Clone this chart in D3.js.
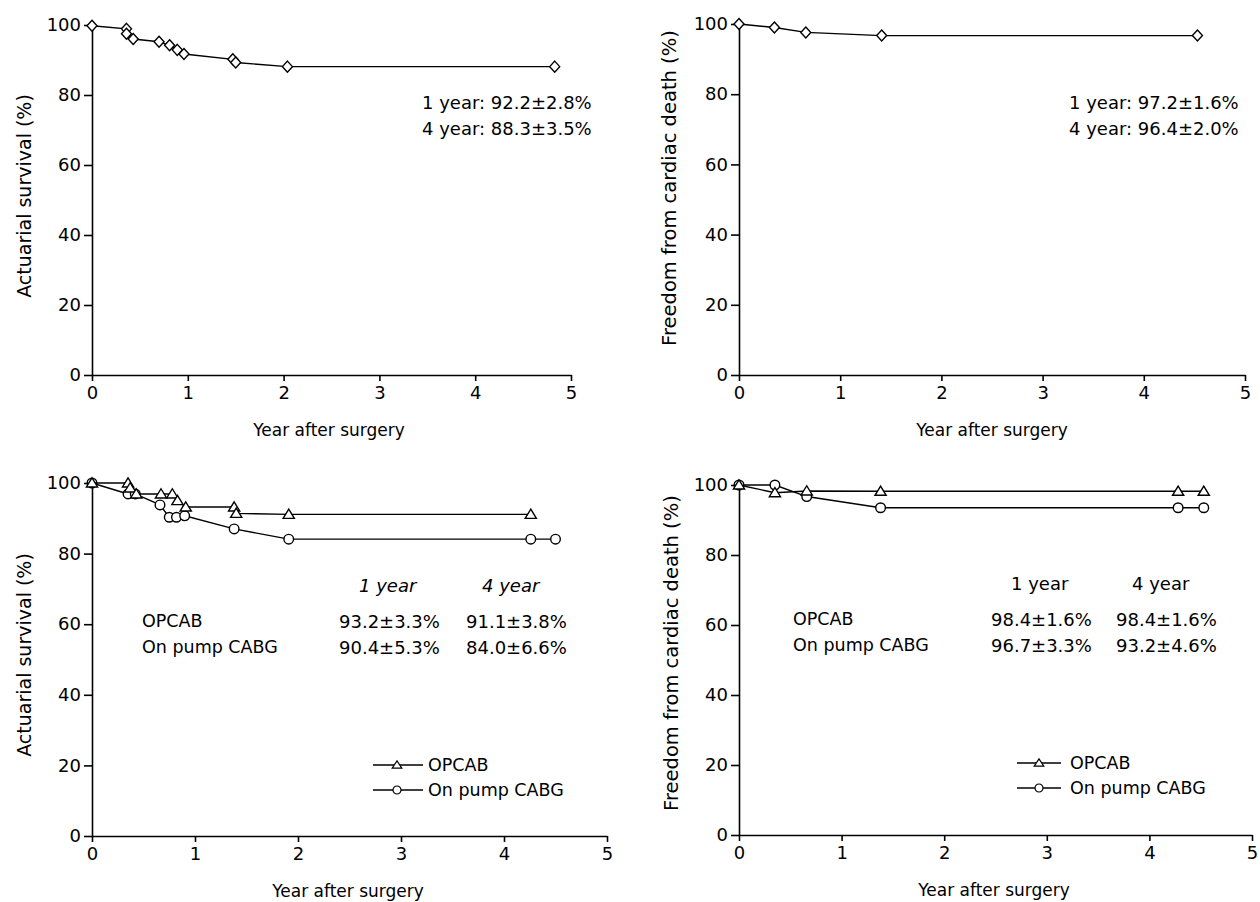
<!DOCTYPE html>
<html><head><meta charset="utf-8">
<script src="https://cdn.jsdelivr.net/npm/d3@7"></script>
<style>
body{margin:0;background:#fff}
svg{display:block}
text{font-family:"DejaVu Sans",sans-serif;fill:#000}
</style>
</head><body>
<svg id="c" width="1260" height="902"></svg>
<script>
// ---------- data ----------
const xTicks = [0, 1, 2, 3, 4, 5];
const yTicks = [0, 20, 40, 60, 80, 100];
const xTitle = "Year after surgery";
const yTitleSurvival = "Actuarial survival (%)";
const yTitleCardiac = "Freedom from cardiac death (%)";

// Panel A: overall actuarial survival
const aTime  = [0, 0.36, 0.36, 0.43, 0.70, 0.81, 0.89, 0.96, 1.47, 1.50, 2.04, 4.83];
const aValue = [99.8, 98.9, 97.5, 96.0, 95.2, 94.2, 92.9, 91.7, 90.2, 89.3, 88.1, 88.1];
const aStats = ["1 year: 92.2\u00b12.8%", "4 year: 88.3\u00b13.5%"];

// Panel B: overall freedom from cardiac death
const bTime  = [0, 0.35, 0.66, 1.41, 4.53];
const bValue = [100, 99.0, 97.6, 96.7, 96.7];
const bStats = ["1 year: 97.2\u00b11.6%", "4 year: 96.4\u00b12.0%"];

// Panel C: actuarial survival by group
const cOpcabTime  = [0, 0.35, 0.37, 0.43, 0.67, 0.78, 0.83, 0.91, 1.38, 1.40, 1.91, 4.26];
const cOpcabValue = [100, 100, 98.6, 96.9, 96.9, 96.9, 95.0, 93.2, 93.2, 91.4, 91.1, 91.1];
const cPumpTime   = [0, 0.35, 0.42, 0.66, 0.75, 0.82, 0.90, 1.38, 1.91, 4.26, 4.50];
const cPumpValue  = [100, 96.9, 96.9, 93.8, 90.3, 90.3, 90.7, 87.0, 84.1, 84.1, 84.1];

// Panel D: freedom from cardiac death by group
const dOpcabTime  = [0, 0.35, 0.66, 1.38, 4.28, 4.53];
const dOpcabValue = [100, 97.8, 98.3, 98.2, 98.2, 98.2];
const dPumpTime   = [0, 0.35, 0.66, 1.38, 4.28, 4.53];
const dPumpValue  = [100, 100, 96.7, 93.5, 93.5, 93.5];

const groupNames = ["OPCAB", "On pump CABG"];
const colHeaders = ["1 year", "4 year"];
const cStats = [["93.2\u00b13.3%", "91.1\u00b13.8%"], ["90.4\u00b15.3%", "84.0\u00b16.6%"]];
const dStats = [["98.4\u00b11.6%", "98.4\u00b11.6%"], ["96.7\u00b13.3%", "93.2\u00b14.6%"]];

// ---------- drawing ----------
const svg = d3.select("#c");
const zip = (t, v) => t.map((d, i) => ({t: d, v: v[i]}));

const shapes = {
  diamond: "M0,-5.5L5,0L0,5.5L-5,0Z",
  triangle: "M0,-5.2L5.6,4L-5.6,4Z",
  circle: d3.symbol(d3.symbolCircle, Math.PI * 4.8 * 4.8)()
};

function makePanel(cfg) {
  const x = d3.scaleLinear().domain([0, 5]).range([cfg.x0, cfg.x1]);
  const y = d3.scaleLinear().domain([0, 100]).range([cfg.yb, cfg.yt]);
  const g = svg.append("g");

  const ax = g.append("g").attr("transform", `translate(0,${cfg.yb})`)
    .call(d3.axisBottom(x).tickValues(xTicks).tickSize(6).tickPadding(5).tickSizeOuter(0).tickFormat(d3.format("d")));
  const ay = g.append("g").attr("transform", `translate(${cfg.x0},0)`)
    .call(d3.axisLeft(y).tickValues(yTicks).tickSize(8).tickPadding(3).tickSizeOuter(0).tickFormat(d3.format("d")));
  [ax, ay].forEach(a => {
    a.attr("font-family", "DejaVu Sans").attr("font-size", 18);
    a.selectAll("path,line").attr("stroke", "#000").attr("stroke-width", 1.6);
    a.selectAll("text").attr("fill", "#000");
  });

  g.append("text").attr("x", cfg.xTitleX).attr("y", cfg.yb + 61)
    .attr("text-anchor", "middle").attr("font-size", 17).text(xTitle);
  g.append("text").attr("transform", `translate(${cfg.yTitleX},${cfg.yTitleY}) rotate(-90)`)
    .attr("text-anchor", "middle").attr("dominant-baseline", "central")
    .attr("font-size", cfg.yTitleSize).text(cfg.yTitle);

  return {g, x, y};
}

function drawSeries(p, data, shape) {
  const line = d3.line().x(d => p.x(d.t)).y(d => p.y(d.v));
  p.g.append("path").datum(data).attr("d", line)
    .attr("fill", "none").attr("stroke", "#000").attr("stroke-width", 1.4);
  p.g.selectAll(null).data(data).enter().append("path")
    .attr("d", shapes[shape])
    .attr("transform", d => `translate(${p.x(d.t)},${p.y(d.v)})`)
    .attr("fill", "#fff").attr("stroke", "#000").attr("stroke-width", 1.4);
}

function legend(p, lx0, lx1, mx, tx, rows) {
  const items = [{name: groupNames[0], shape: "triangle", cy: rows[0]}, {name: groupNames[1], shape: "circle", cy: rows[1]}];
  items.forEach(it => {
    p.g.append("line").attr("x1", lx0).attr("x2", lx1).attr("y1", it.cy).attr("y2", it.cy)
      .attr("stroke", "#000").attr("stroke-width", 1.3);
    p.g.append("path").attr("d", it.shape === "circle" ? d3.symbol(d3.symbolCircle, Math.PI * 16)() : "M0,-4.2L4.8,3.2L-4.8,3.2Z")
      .attr("transform", `translate(${mx},${it.cy})`)
      .attr("fill", "#fff").attr("stroke", "#000").attr("stroke-width", 1.2);
    p.g.append("text").attr("x", tx).attr("y", it.cy).attr("dominant-baseline", "central")
      .attr("font-size", 17.5).text(it.name);
  });
}

// Panel A
const pA = makePanel({x0: 92, x1: 571, yb: 375, yt: 25, xTitleX: 329, yTitleX: 24, yTitleY: 196, yTitle: yTitleSurvival, yTitleSize: 19});
drawSeries(pA, zip(aTime, aValue), "diamond");
aStats.forEach((s, i) => pA.g.append("text").attr("x", 422).attr("y", 102 + i * 26)
  .attr("dominant-baseline", "central").attr("font-size", 18).text(s));

// Panel B
const pB = makePanel({x0: 739, x1: 1245, yb: 375, yt: 24, xTitleX: 992, yTitleX: 669, yTitleY: 188, yTitle: yTitleCardiac, yTitleSize: 19.5});
drawSeries(pB, zip(bTime, bValue), "diamond");
bStats.forEach((s, i) => pB.g.append("text").attr("x", 1069).attr("y", 102 + i * 26)
  .attr("dominant-baseline", "central").attr("font-size", 18).text(s));

// Panel C
const pC = makePanel({x0: 92, x1: 607, yb: 836, yt: 483, xTitleX: 348, yTitleX: 24, yTitleY: 655, yTitle: yTitleSurvival, yTitleSize: 19});
drawSeries(pC, zip(cPumpTime, cPumpValue), "circle");
drawSeries(pC, zip(cOpcabTime, cOpcabValue), "triangle");
colHeaders.forEach((h, j) => pC.g.append("text").attr("x", [359, 482][j]).attr("y", 585)
  .attr("dominant-baseline", "central").attr("font-size", 18).attr("font-style", "italic").text(h));
groupNames.forEach((n, i) => {
  pC.g.append("text").attr("x", 142).attr("y", 621 + i * 26).attr("dominant-baseline", "central")
    .attr("font-size", 17.5).text(n);
  cStats[i].forEach((s, j) => pC.g.append("text").attr("x", [339, 466][j]).attr("y", 621 + i * 26)
    .attr("dominant-baseline", "central").attr("font-size", 18).text(s));
});
legend(pC, 373, 423, 397, 428, [765, 790]);

// Panel D
const pD = makePanel({x0: 739, x1: 1252, yb: 835, yt: 485, xTitleX: 994, yTitleX: 671, yTitleY: 653, yTitle: yTitleCardiac, yTitleSize: 19.5});
drawSeries(pD, zip(dPumpTime, dPumpValue), "circle");
drawSeries(pD, zip(dOpcabTime, dOpcabValue), "triangle");
colHeaders.forEach((h, j) => pD.g.append("text").attr("x", [1011, 1132][j]).attr("y", 583)
  .attr("dominant-baseline", "central").attr("font-size", 18).text(h));
groupNames.forEach((n, i) => {
  pD.g.append("text").attr("x", 793).attr("y", 619 + i * 26).attr("dominant-baseline", "central")
    .attr("font-size", 17.5).text(n);
  dStats[i].forEach((s, j) => pD.g.append("text").attr("x", [991, 1116][j]).attr("y", 619 + i * 26)
    .attr("dominant-baseline", "central").attr("font-size", 18).text(s));
});
legend(pD, 1017, 1061, 1039, 1070, [763, 788]);
</script>
</body></html>
